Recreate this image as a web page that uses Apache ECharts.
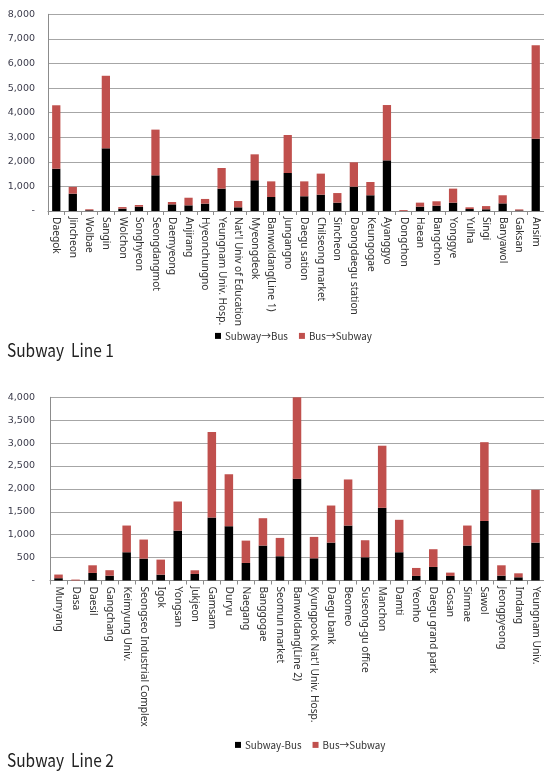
<!DOCTYPE html>
<html>
<head>
<meta charset="utf-8">
<script src="https://cdn.jsdelivr.net/npm/echarts@6/dist/echarts.min.js"></script>
<style>
  html, body { margin: 0; padding: 0; background: #fff; }
  #chart { width: 544px; height: 773px; }
</style>
</head>
<body>
<div id="chart"></div>
<script>
// Line 1 stations and transfer counts
const line1Stations = ['Daegok', 'Jincheon', 'Wolbae', 'Sangin', 'Wolchon', 'Songhyeon', 'Seongdangmot',
  'Daemyeong', 'Anjirang', 'Hyeonchungno', 'Yeungnam Univ. Hosp.', "Nat'l Univ of Education", 'Myeongdeok',
  'Banwoldang(Line 1)', 'Jungangno', 'Daegu sation', 'Chilseong market', 'Sincheon', 'Daongdaegu station',
  'Keungogae', 'Ayanggyo', 'Dongchon', 'Haean', 'Bangchon', 'Yonggye', 'Yulha', 'Singi', 'Banyawol',
  'Gaksan', 'Ansim'];
const line1SubwayToBus = [1720, 705, 30, 2550, 95, 175, 1450, 270, 230, 300, 910, 150, 1250, 570,
  1545, 600, 665, 340, 990, 640, 2060, 5, 175, 215, 340, 80, 70, 310, 25, 2940];
const line1BusToSubway = [2580, 275, 40, 2950, 65, 70, 1860, 95, 310, 190, 840, 255, 1055, 635,
  1545, 605, 855, 390, 990, 540, 2250, 35, 165, 180, 570, 70, 130, 330, 40, 3800];

// Line 2 stations and transfer counts
const line2Stations = ['Munyang', 'Dasa', 'Daesil', 'Gangchang', 'Keimyung Univ.', 'Seongseo Industrial Complex',
  'Igok', 'Yongsan', 'Jukjeon', 'Gamsam', 'Duryu', 'Naegang', 'Banggogae', 'Seomun market',
  'Banwoldang(Line 2)', "Kyungpook Nat'l Univ. Hosp.", 'Daegu bank', 'Beomeo', 'Suseong-gu office',
  'Manchon', 'Damti', 'Yeonho', 'Daegu grand park', 'Gosan', 'Sinmae', 'Sawol', 'Jeongpyeong', 'Imdang',
  'Yeungnam Univ.'];
const line2SubwayToBus = [50, 0, 165, 105, 617, 478, 128, 1090, 143, 1375, 1185, 383, 763, 530,
  2220, 485, 828, 1200, 507, 1587, 617, 100, 296, 100, 763, 1300, 106, 70, 828];
const line2BusToSubway = [80, 20, 167, 120, 583, 416, 328, 635, 80, 1865, 1135, 488, 597, 400,
  1780, 467, 809, 1006, 372, 1356, 708, 174, 387, 72, 437, 1720, 226, 87, 1152];

// Axis ticks
const line1Max = 8000, line1Step = 1000;
const line2Max = 4000, line2Step = 500;

const RED = '#C0504D';
const BLACK = '#000000';
const TEXT = '#333333';
const KR = 'Noto Sans CJK KR';

function yLabel(v) {
  return v === 0 ? '-' : v.toLocaleString('en-US');
}

function xAxis(idx, cats) {
  return {
    type: 'category', gridIndex: idx, data: cats,
    axisLine: { show: true, lineStyle: { color: '#8c8c8c', width: 1 } },
    axisTick: { show: true, length: 4, lineStyle: { color: '#8c8c8c' } },
    axisLabel: {
      rotate: -90, interval: 0, margin: 6,
      fontFamily: 'Noto Sans', fontSize: 10.2, color: TEXT
    }
  };
}

function yAxis(idx, max, step, margin) {
  return {
    type: 'value', gridIndex: idx, min: 0, max: max, interval: step,
    axisLine: { show: true, lineStyle: { color: '#8c8c8c', width: 1 } },
    axisTick: { show: false },
    splitLine: { show: true, lineStyle: { color: '#a6a6a6', width: 1 } },
    axisLabel: {
      formatter: yLabel, margin: margin,
      fontFamily: 'DejaVu Sans', fontSize: 9.5, color: '#3a3a4a'
    }
  };
}

function bar(name, idx, data, color) {
  return {
    name: name, type: 'bar', stack: 'line' + idx,
    xAxisIndex: idx, yAxisIndex: idx,
    data: data, barWidth: '50%',
    itemStyle: { color: color },
    emphasis: { disabled: true }
  };
}

function legend(left, top, names) {
  return {
    left: left, top: top, padding: 0, itemWidth: 6, itemHeight: 6, itemGap: 11, icon: 'rect',
    data: names,
    textStyle: { fontFamily: KR, fontSize: 9.8, color: TEXT, padding: [0, 0, 0, -1] }
  };
}

function title(text, top) {
  return {
    type: 'text', x: 7, y: top, scaleX: 0.86,
    style: { text: text, font: '18px "Noto Sans CJK KR"', fill: '#222', verticalAlign: 'top' }
  };
}

const chart = echarts.init(document.getElementById('chart'), null, { renderer: 'canvas' });
chart.setOption({
  animation: false,
  backgroundColor: '#ffffff',
  grid: [
    { left: 48, top: 14.3, width: 500, height: 196.7, containLabel: false },
    { left: 50, top: 397.3, width: 498, height: 183.2, containLabel: false }
  ],
  xAxis: [xAxis(0, line1Stations), xAxis(1, line2Stations)],
  yAxis: [yAxis(0, line1Max, line1Step, 13), yAxis(1, line2Max, line2Step, 15)],
  legend: [
    legend(215, 331, ['Subway→Bus', 'Bus→Subway ']),
    legend(235, 740, ['Subway-Bus', 'Bus→Subway'])
  ],
  graphic: [
    title('Subway  Line 1', 341),
    title('Subway  Line 2', 751)
  ],
  series: [
    bar('Subway→Bus', 0, line1SubwayToBus, BLACK),
    bar('Bus→Subway ', 0, line1BusToSubway, RED),
    bar('Subway-Bus', 1, line2SubwayToBus, BLACK),
    bar('Bus→Subway', 1, line2BusToSubway, RED)
  ]
});
</script>
</body>
</html>
